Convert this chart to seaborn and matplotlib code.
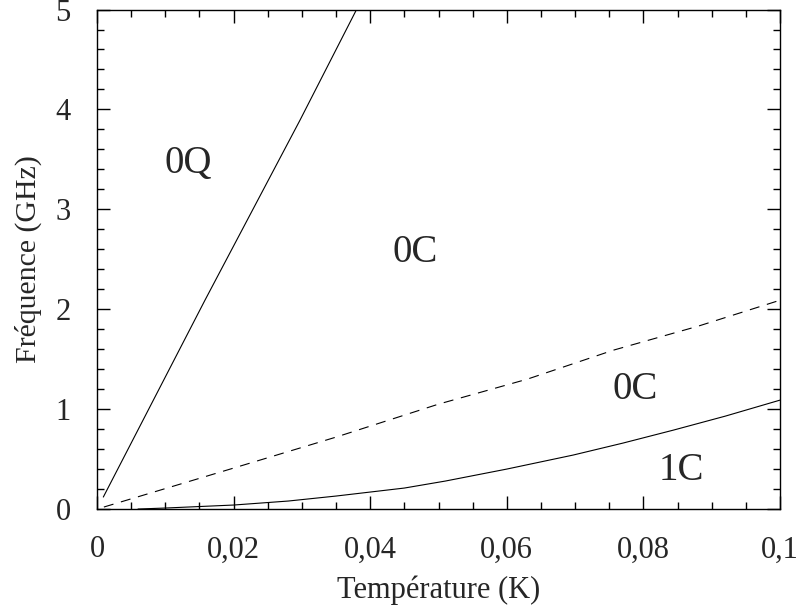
import matplotlib
matplotlib.use("Agg")
import matplotlib.pyplot as plt
from matplotlib.ticker import MultipleLocator
import seaborn as sns

# données
t_0q = [0.00092, 0.0158, 0.0297, 0.0380]
f_0q = [0.12, 2.09, 3.89, 5.0]

t_tir = [0.001, 0.020, 0.035, 0.050, 0.063, 0.0756, 0.088, 0.100]
f_tir = [0.02, 0.41, 0.72, 1.05, 1.30, 1.59, 1.83, 2.09]

t_1c = [0.006, 0.010, 0.020, 0.028, 0.035, 0.045, 0.051, 0.060, 0.0697, 0.077, 0.0844, 0.092, 0.100]
f_1c = [0.0, 0.01, 0.04, 0.08, 0.13, 0.21, 0.28, 0.40, 0.54, 0.66, 0.79, 0.93, 1.09]

etiquettes = ["0Q", "0C", "0C", "1C"]
pos_t = [0.0134, 0.0466, 0.0788, 0.0856]
pos_f = [3.46, 2.57, 1.20, 0.39]

xticks = [0, 0.02, 0.04, 0.06, 0.08, 0.1]
xlabels = ["0", "0,02", "0,04", "0,06", "0,08", "0,1"]
yticks = [0, 1, 2, 3, 4, 5]

sns.set_style("ticks")
plt.rcParams['font.family'] = ['Liberation Serif', 'DejaVu Serif']

fig, ax = plt.subplots(figsize=(7.98, 6.07), dpi=100)
fig.subplots_adjust(left=0.1216, right=0.9774, top=0.9843, bottom=0.1614)

sns.lineplot(x=t_0q, y=f_0q, ax=ax, color='black', lw=0.8)
sns.lineplot(x=t_tir, y=f_tir, ax=ax, color='black', lw=0.8, linestyle=(0, (9, 7)))
sns.lineplot(x=t_1c, y=f_1c, ax=ax, color='black', lw=0.8)

for txt, x, y in zip(etiquettes, pos_t, pos_f):
    ax.text(x, y, txt, fontsize=28, ha='center', va='center')

ax.set_xlim(0, 0.1)
ax.set_ylim(0, 5)
ax.set_xticks(xticks)
ax.set_xticklabels(xlabels)
ax.set_yticks(yticks)
ax.xaxis.set_minor_locator(MultipleLocator(0.005))
ax.yaxis.set_minor_locator(MultipleLocator(0.2))
ax.tick_params(which='both', direction='in', top=True, right=True, color='black', width=1)
ax.tick_params(which='major', length=9.5, labelsize=22, pad=19)
ax.tick_params(which='minor', length=5)
for s in ax.spines.values():
    s.set_linewidth(1.0)
    s.set_color('black')

ax.set_xlabel("Température (K)", fontsize=22, labelpad=8)
ax.set_ylabel("Fréquence (GHz)", fontsize=21.5, labelpad=10)

fig.savefig("out.png", dpi=100)
